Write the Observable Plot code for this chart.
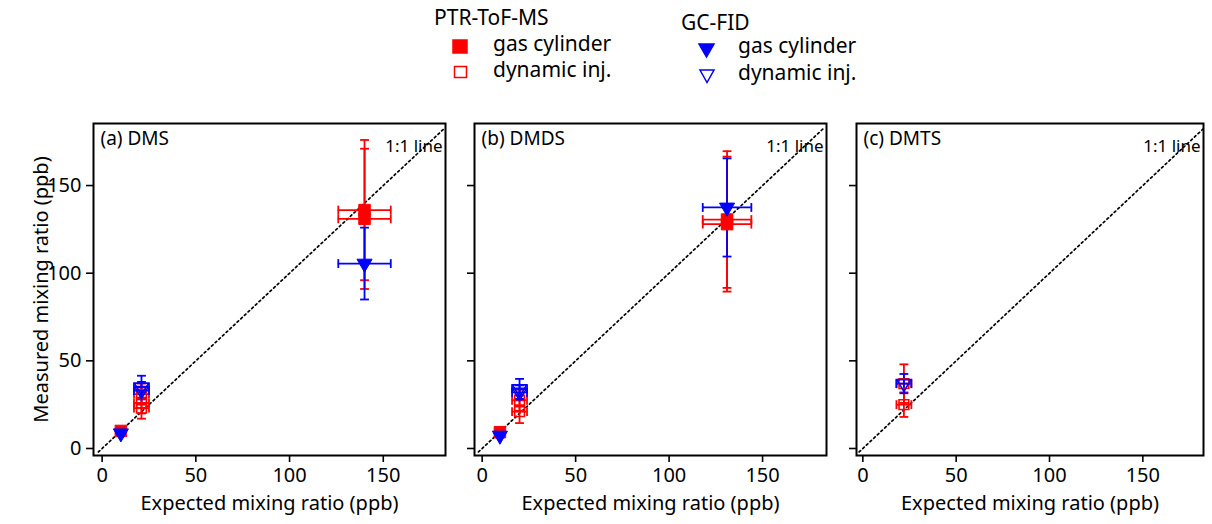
<!DOCTYPE html>
<html><head><meta charset="utf-8">
<script src="https://cdn.jsdelivr.net/npm/d3@7"></script>
<script src="https://cdn.jsdelivr.net/npm/@observablehq/plot@0.6"></script>
<style>
body{margin:0;background:#fff;}
#wrap{position:relative;width:1212px;height:524px;overflow:hidden;background:#fff;font-family:"Noto Sans",sans-serif;}
#legend{position:absolute;left:0;top:0;}
svg g[aria-label="x-axis tick"], svg g[aria-label="y-axis tick"]{stroke-width:1.6px;}
</style></head><body><div id="wrap"></div>
<script>
// ---------- data ----------
const panelIds = ["a", "b", "c"];
const panelTitles = ["(a) DMS", "(b) DMDS", "(c) DMTS"];
const xTicks = [0, 50, 100, 150];
const yTicks = [0, 50, 100, 150];
const oneToOne = [-2, 183];
// PTR-ToF-MS, gas cylinder (x = expected, y = measured, xe/ye = error)
const ptrGas = [
  {panel: "a", x: 10, y: 10, xe: 1, ye: 1.5},
  {panel: "a", x: 140, y: 136, xe: 14, ye: 40},
  {panel: "a", x: 140, y: 131, xe: 14, ye: 40},
  {panel: "b", x: 9.5, y: 9.3, xe: 1, ye: 1.5},
  {panel: "b", x: 131, y: 130.6, xe: 13, ye: 39},
  {panel: "b", x: 131, y: 128, xe: 13, ye: 38.5}
];
// PTR-ToF-MS, dynamic injection
const ptrDyn = [
  {panel: "a", x: 21, y: 31, xe: 4, ye: 6},
  {panel: "a", x: 21, y: 26, xe: 4, ye: 6},
  {panel: "a", x: 21, y: 23, xe: 4, ye: 6},
  {panel: "b", x: 20, y: 27.5, xe: 4, ye: 6},
  {panel: "b", x: 20, y: 21, xe: 4, ye: 6.5},
  {panel: "c", x: 22, y: 37, xe: 4, ye: 11},
  {panel: "c", x: 22, y: 25, xe: 4, ye: 7}
];
// GC-FID, gas cylinder
const gcGas = [
  {panel: "a", x: 10, y: 8.7, xe: 1, ye: 1},
  {panel: "a", x: 140, y: 105.5, xe: 14, ye: 20.5},
  {panel: "b", x: 9.5, y: 7.4, xe: 1, ye: 1},
  {panel: "b", x: 131, y: 137.5, xe: 13, ye: 28}
];
// GC-FID, dynamic injection
const gcDyn = [
  {panel: "a", x: 21, y: 35, xe: 4, ye: 6.5},
  {panel: "a", x: 21, y: 33, xe: 4, ye: 5},
  {panel: "b", x: 20, y: 34, xe: 4, ye: 5.7},
  {panel: "b", x: 20, y: 32, xe: 4, ye: 4},
  {panel: "c", x: 22, y: 37, xe: 4, ye: 5.5}
];

// ---------- layout ----------
const RED = "#ff0000", BLUE = "#0000ff";
const FONT = "Noto Sans, sans-serif";
const layout = [
  {left: 0,   width: 455, ml: 93, mr: 10, xd: [-4.6, 183.2]},
  {left: 455, width: 381, ml: 19, mr: 10, xd: [-4.1, 184.2]},
  {left: 836, width: 376, ml: 20, mr: 9,  xd: [-3.4, 182.5]}
];

const capH = {draw(ctx, size) { const w = Math.sqrt(size) / 2; ctx.moveTo(-w, 0); ctx.lineTo(w, 0); }};
const capV = {draw(ctx, size) { const w = Math.sqrt(size) / 2; ctx.moveTo(0, -w); ctx.lineTo(0, w); }};
const triDown = {draw(ctx, size) {
  const y = Math.sqrt(size / (3 * Math.sqrt(3))), s = Math.sqrt(3) * y;
  ctx.moveTo(0, 2 * y); ctx.lineTo(-s, -y); ctx.lineTo(s, -y); ctx.closePath();
}};

function errMarks(data, color) {
  const o = {stroke: color, strokeWidth: 1.8, fill: "none"};
  return [
    Plot.ruleX(data, {x: "x", y1: d => d.y - d.ye, y2: d => d.y + d.ye, ...o}),
    Plot.ruleY(data, {y: "y", x1: d => d.x - d.xe, x2: d => d.x + d.xe, ...o}),
    Plot.dot(data, {x: "x", y: d => d.y - d.ye, symbol: capH, r: 5, ...o}),
    Plot.dot(data, {x: "x", y: d => d.y + d.ye, symbol: capH, r: 5, ...o}),
    Plot.dot(data, {x: d => d.x - d.xe, y: "y", symbol: capV, r: 5, ...o}),
    Plot.dot(data, {x: d => d.x + d.xe, y: "y", symbol: capV, r: 5, ...o})
  ];
}

const wrap = document.getElementById("wrap");

panelIds.forEach((id, i) => {
  const L = layout[i];
  const f = arr => arr.filter(d => d.panel === id);
  const chart = Plot.plot({
    width: L.width, height: 414,
    marginTop: 13, marginBottom: 69, marginLeft: L.ml, marginRight: L.mr,
    style: {fontFamily: FONT, fontSize: "20px", color: "black", background: "transparent", overflow: "visible"},
    x: {domain: L.xd, ticks: xTicks, tickSize: 7, tickPadding: 5,
        label: "Expected mixing ratio (ppb)", labelAnchor: "center", labelArrow: "none", labelOffset: 54},
    y: {domain: [-4, 185.4], ticks: yTicks, tickSize: 7, tickPadding: 5,
        tickFormat: i === 0 ? (d => String(d)) : (() => ""),
        label: i === 0 ? "Measured mixing ratio (ppb)" : null, labelAnchor: "center", labelArrow: "none", labelOffset: 60},
    marks: [
      Plot.line(oneToOne.map(v => ({v})), {x: "v", y: "v", stroke: "black", strokeWidth: 1.7, strokeDasharray: "2,3"}),
      ...errMarks(f(ptrGas), RED),
      ...errMarks(f(ptrDyn), RED),
      ...errMarks(f(gcGas), BLUE),
      ...errMarks(f(gcDyn), BLUE),
      Plot.dot(f(ptrGas), {x: "x", y: "y", symbol: "square", r: 6.5, fill: RED, stroke: RED, strokeWidth: 1}),
      Plot.dot(f(ptrDyn), {x: "x", y: "y", symbol: "square", r: 5.5, fill: "none", stroke: RED, strokeWidth: 1.6}),
      Plot.dot(f(gcGas), {x: "x", y: "y", symbol: triDown, r: 5.6, fill: BLUE, stroke: BLUE, strokeWidth: 1}),
      Plot.dot(f(gcDyn), {x: "x", y: "y", symbol: triDown, r: 5.2, fill: "none", stroke: BLUE, strokeWidth: 1.6}),
      Plot.text([panelTitles[i]], {text: d => d, frameAnchor: "top-left", dx: 7, dy: 8, fontSize: 19, textAnchor: "start"}),
      Plot.text(["1:1 line"], {text: d => d, frameAnchor: "top-right", dx: -3, dy: 16, fontSize: 17, textAnchor: "end"}),
      Plot.frame({stroke: "black", strokeWidth: 2})
    ]
  });
  chart.style.position = "absolute";
  chart.style.left = L.left + "px";
  chart.style.top = "110px";
  wrap.appendChild(chart);
});

// ---------- legend ----------
const legendGroups = ["PTR-ToF-MS", "GC-FID"];
const legendItems = ["gas cylinder", "dynamic inj."];
const ns = "http://www.w3.org/2000/svg";
const lg = document.createElementNS(ns, "svg");
lg.setAttribute("id", "legend");
lg.setAttribute("width", 1212);
lg.setAttribute("height", 100);
lg.style.fontFamily = FONT;
function txt(s, x, y, size) {
  const t = document.createElementNS(ns, "text");
  t.setAttribute("x", x); t.setAttribute("y", y); t.setAttribute("font-size", size);
  t.textContent = s; lg.appendChild(t);
}
function path(d, fill, stroke) {
  const p = document.createElementNS(ns, "path");
  p.setAttribute("d", d); p.setAttribute("fill", fill); p.setAttribute("stroke", stroke); p.setAttribute("stroke-width", 1.5);
  lg.appendChild(p);
}
txt(legendGroups[0], 434, 25, 21);
path("M453,40h14v13h-14z", RED, RED);
txt(legendItems[0], 493, 51, 21);
path("M454.5,66.5h12v11h-12z", "#fff", RED);
txt(legendItems[1], 493, 77, 21);
txt(legendGroups[1], 681, 30, 21);
path("M699,44h15l-7.5,13z", BLUE, BLUE);
txt(legendItems[0], 738, 53, 21);
path("M700,70h14l-7,12.5z", "none", BLUE);
txt(legendItems[1], 738, 80, 21);
wrap.appendChild(lg);
</script></body></html>
